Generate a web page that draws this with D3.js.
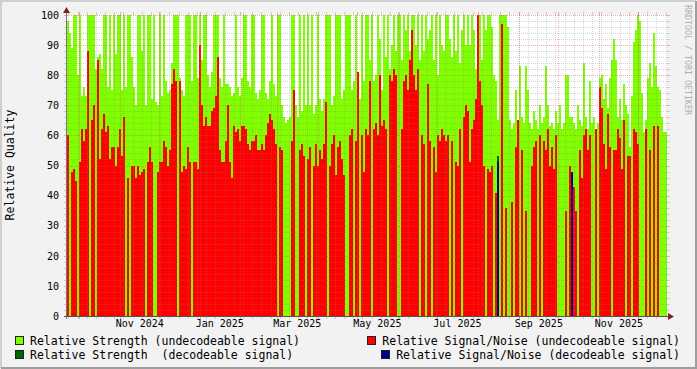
<!DOCTYPE html>
<html>
<head>
<meta charset="utf-8">
<script src="https://cdn.jsdelivr.net/npm/d3@7"></script>
<style>
  html, body { margin: 0; padding: 0; background: #f2f2f2; }
  svg { display: block; font-family: "DejaVu Sans Mono", monospace; }
</style>
</head>
<body>
<svg width="697" height="369"></svg>
<script>
// sampling: one value per consolidated step, Sep 22 2024 .. Dec 23 2025
var startDate = new Date(Date.UTC(2024, 8, 22));
var endDate = new Date(Date.UTC(2025, 11, 23));

// Relative Strength (undecodeable signal)
var strengthUndecodeable = [
    98, 94, 89, 100, 100, 80, 100, 73, 76, 73,
    100, 100, 100, 100, 82, 86, 87, 82, 100, 100,
    76, 100, 75, 100, 87, 100, 100, 75, 100, 76,
    100, 100, 86, 76, 70, 100, 100, 88, 100, 70,
    100, 100, 72, 100, 71, 70, 100, 73, 100, 78,
    74, 75, 84, 100, 100, 100, 79, 75, 73, 100,
    100, 100, 78, 100, 100, 79, 100, 85, 100, 100,
    80, 76, 81, 100, 100, 100, 79, 76, 100, 77,
    77, 76, 73, 74, 100, 76, 73, 79, 100, 100,
    78, 76, 100, 100, 74, 72, 75, 100, 100, 74,
    72, 78, 100, 77, 73, 100, 100, 70, 66, 64,
    65, 66, 100, 100, 70, 66, 100, 68, 100, 70,
    100, 70, 100, 67, 70, 100, 72, 68, 72, 100,
    100, 100, 70, 73, 100, 100, 100, 72, 75, 100,
    100, 100, 75, 78, 100, 80, 72, 100, 78, 100,
    100, 85, 100, 78, 80, 100, 92, 75, 100, 86,
    100, 82, 90, 100, 88, 100, 100, 85, 100, 95,
    100, 88, 100, 100, 90, 100, 85, 100, 88, 100,
    92, 95, 100, 85, 100, 80, 100, 90, 88, 100,
    100, 92, 86, 100, 88, 100, 84, 95, 100, 90,
    100, 90, 100, 95, 82, 100, 100, 85, 100, 95,
    100, 100, 96, 80, 78, 65, 100, 100, 100, 100,
    96, 65, 62, 64, 75, 63, 83, 66, 64, 83,
    75, 64, 62, 68, 65, 62, 70, 64, 66, 83,
    70, 63, 64, 62, 68, 64, 70, 62, 64, 80,
    80, 66, 66, 64, 62, 70, 65, 63, 84, 66,
    62, 78, 64, 66, 62, 64, 79, 80, 72, 77,
    69, 79, 85, 92, 85, 66, 72, 65, 77, 70,
    67, 56, 73, 91, 95, 100, 98, 74, 61, 65,
    79, 84, 76, 94, 83, 76, 75, 66, 61, 61
];

// Relative Signal/Noise (undecodeable signal)
var snrUndecodeable = [
    60, 0, 48, 49, 45, 0, 51, 62, 58, 62,
    88, 0, 65, 70, 0, 85, 52, 62, 67, 61,
    63, 52, 56, 56, 50, 56, 62, 53, 66, 0,
    46, 0, 50, 50, 46, 50, 47, 48, 49, 0,
    51, 56, 51, 0, 0, 48, 51, 51, 58, 56,
    50, 55, 77, 82, 78, 0, 78, 48, 50, 49,
    56, 51, 0, 51, 51, 49, 90, 70, 63, 66,
    63, 63, 68, 69, 73, 86, 55, 51, 51, 58,
    70, 51, 46, 63, 61, 62, 58, 63, 63, 62,
    57, 55, 58, 58, 60, 55, 55, 57, 55, 60,
    64, 67, 65, 62, 57, 0, 56, 55, 0, 0,
    0, 0, 58, 75, 0, 0, 55, 57, 53, 0,
    52, 56, 0, 50, 57, 50, 55, 52, 57, 71,
    0, 50, 57, 60, 47, 56, 58, 52, 47, 0,
    0, 60, 62, 0, 58, 81, 0, 60, 48, 62,
    60, 78, 0, 62, 64, 60, 80, 63, 65, 62,
    0, 80, 78, 82, 80, 0, 0, 62, 78, 80,
    75, 85, 95, 80, 75, 82, 0, 60, 57, 0,
    77, 58, 0, 56, 48, 60, 58, 62, 60, 58,
    60, 0, 58, 0, 51, 50, 62, 0, 66, 70,
    68, 51, 62, 65, 72, 100, 78, 70, 50, 0,
    49, 48, 50, 0, 41, 0, 0, 97, 0, 36,
    0, 0, 38, 0, 56, 65, 0, 55, 0, 35,
    0, 0, 50, 56, 58, 0, 60, 0, 58, 55,
    62, 50, 56, 49, 60, 0, 0, 0, 0, 35,
    0, 50, 0, 43, 35, 0, 55, 46, 60, 62,
    55, 60, 0, 0, 62, 0, 76, 69, 57, 49,
    67, 56, 0, 55, 55, 62, 59, 49, 65, 0,
    53, 53, 0, 62, 61, 57, 0, 0, 0, 62,
    0, 55, 0, 63, 0, 63, 0, 0, 0, 0
];

// the few samples where the signal could be decoded
var decodeableIndex = [215, 252];
var strengthDecodeable = [53, 48];
var snrDecodeable = [51, 48];

var yTickValues = [0, 10, 20, 30, 40, 50, 60, 70, 80, 90, 100];

var legendItems = [
    {label: "Relative Strength (undecodeable signal)", color: "#80ff00"},
    {label: "Relative Signal/Noise (undecodeable signal)", color: "#ff0000"},
    {label: "Relative Strength  (decodeable signal)", color: "#006600"},
    {label: "Relative Signal/Noise (decodeable signal)", color: "#00008c"}
];

(function () {
    "use strict";

    var svg = d3.select("svg");
    var plotLeft = 67, plotRight = 667, plotTop = 15, plotBottom = 316;

    var x = d3.scaleUtc()
        .domain([startDate, endDate])
        .range([plotLeft, plotRight]);
    var y = d3.scaleLinear()
        .domain([0, 100])
        .range([plotBottom, plotTop]);

    var step = (endDate - startDate) / strengthUndecodeable.length;
    var sampleTime = function (i) {
        return new Date(startDate.getTime() + i * step);
    };

    // frame shading
    svg.append("rect").attr("width", 697).attr("height", 369)
        .attr("fill", "#f2f2f2");
    svg.append("path").attr("d", "M1,368V1H696").attr("fill", "none")
        .attr("stroke", "#cfcfcf").attr("stroke-width", 2);
    svg.append("path").attr("d", "M1,368H696V1").attr("fill", "none")
        .attr("stroke", "#9e9e9e").attr("stroke-width", 2);

    // canvas
    svg.append("rect")
        .attr("x", plotLeft).attr("y", plotTop)
        .attr("width", plotRight - plotLeft)
        .attr("height", plotBottom - plotTop)
        .attr("fill", "#ffffff");

    var bars = svg.append("g").attr("shape-rendering", "crispEdges");

    var drawSeries = function (values, indexOf, color) {
        bars.append("g").selectAll("rect")
            .data(values)
            .join("rect")
            .attr("x", function (ignore, i) {
                return x(sampleTime(indexOf(i)));
            })
            .attr("width", function (ignore, i) {
                var k = indexOf(i);
                return x(sampleTime(k + 1)) - x(sampleTime(k));
            })
            .attr("y", function (d) { return y(d); })
            .attr("height", function (d) { return y(0) - y(d); })
            .attr("fill", color);
    };
    var dense = function (i) { return i; };
    var sparse = function (i) { return decodeableIndex[i]; };

    drawSeries(strengthUndecodeable, dense, legendItems[0].color);
    drawSeries(snrUndecodeable, dense, legendItems[1].color);
    drawSeries(strengthDecodeable, sparse, legendItems[2].color);
    drawSeries(snrDecodeable, sparse, legendItems[3].color);

    // grid (drawn on top of the data, rrdtool style)
    var grid = svg.append("g").attr("shape-rendering", "crispEdges");
    var minorColor = "rgba(130,130,130,0.32)";
    var majorColor = "rgba(222,79,79,0.45)";

    d3.range(2, 101, 2).forEach(function (v) {
        var yy = Math.round(y(v)) + 0.5;
        var c = v % 10 === 0 ? majorColor : minorColor;
        grid.append("line").attr("x1", plotLeft).attr("x2", plotRight)
            .attr("y1", yy).attr("y2", yy)
            .attr("stroke", c).attr("stroke-dasharray", "1,1");
        grid.append("line").attr("x1", plotLeft - 3).attr("x2", plotLeft)
            .attr("y1", yy).attr("y2", yy).attr("stroke", c);
        grid.append("line").attr("x1", plotRight).attr("x2", plotRight + 3)
            .attr("y1", yy).attr("y2", yy).attr("stroke", c);
    });

    var vline = function (d, c) {
        var xx = Math.round(x(d)) + 0.5;
        grid.append("line").attr("x1", xx).attr("x2", xx)
            .attr("y1", plotTop).attr("y2", plotBottom)
            .attr("stroke", c).attr("stroke-dasharray", "1,1");
        grid.append("line").attr("x1", xx).attr("x2", xx)
            .attr("y1", plotTop - 3).attr("y2", plotTop).attr("stroke", c);
        grid.append("line").attr("x1", xx).attr("x2", xx)
            .attr("y1", plotBottom).attr("y2", plotBottom + 3)
            .attr("stroke", c);
    };
    d3.utcMonday.range(startDate, endDate).forEach(function (d) {
        vline(d, minorColor);
    });
    d3.utcMonth.range(startDate, endDate).forEach(function (d) {
        vline(d, majorColor);
    });

    // axes
    var yAxis = d3.axisLeft(y).tickValues(yTickValues)
        .tickSize(0).tickPadding(8);
    svg.append("g")
        .attr("transform", "translate(" + plotLeft + ",0)")
        .call(yAxis)
        .call(function (g) { g.select(".domain").remove(); })
        .selectAll("text")
        .attr("font-family", "DejaVu Sans Mono")
        .attr("font-size", "10px")
        .attr("fill", "#000");

    // rrdtool centres month labels in the middle of the labelled month
    var xAxis = d3.axisBottom(x)
        .ticks(d3.utcMonth.every(2))
        .tickFormat(d3.utcFormat("%b %Y"))
        .tickSize(0)
        .tickPadding(4);
    svg.append("g")
        .attr("transform", "translate(0," + plotBottom + ")")
        .call(xAxis)
        .call(function (g) { g.select(".domain").remove(); })
        .selectAll("text")
        .attr("x", function (d) {
            return x(d3.utcDay.offset(d, 15)) - x(d);
        })
        .attr("font-family", "DejaVu Sans Mono")
        .attr("font-size", "10px")
        .attr("fill", "#000");

    var axisG = svg.append("g").attr("shape-rendering", "crispEdges");
    axisG.append("line")
        .attr("x1", plotLeft - 0.5).attr("x2", plotLeft - 0.5)
        .attr("y1", plotBottom + 3).attr("y2", plotTop - 4)
        .attr("stroke", "#777");
    axisG.append("line")
        .attr("x1", plotLeft - 3).attr("x2", plotRight + 3)
        .attr("y1", plotBottom + 0.5).attr("y2", plotBottom + 0.5)
        .attr("stroke", "#555");
    svg.append("path")
        .attr("d", "M" + (plotLeft - 0.5) + "," + (plotTop - 8) +
                "l3.5,6h-7z")
        .attr("fill", "#801f1f");
    svg.append("path")
        .attr("d", "M" + (plotRight + 7) + "," + (plotBottom + 0.5) +
                "l-6,-3.5v7z")
        .attr("fill", "#801f1f");

    // titles
    svg.append("text")
        .attr("transform", "translate(13.5,165) rotate(-90)")
        .attr("text-anchor", "middle")
        .attr("font-size", "11.5px")
        .text("Relative Quality");

    svg.append("text")
        .attr("transform", "translate(685,5) rotate(90)")
        .attr("font-size", "8.3px")
        .attr("fill", "#b0b0b0")
        .text("RRDTOOL / TOBI OETIKER");

    // legend: two rows, left and right justified
    var legendPos = [
        {x: 30, y: 345, anchor: "start"},
        {x: 680, y: 345, anchor: "end"},
        {x: 30, y: 359, anchor: "start"},
        {x: 680, y: 359, anchor: "end"}
    ];
    legendItems.forEach(function (item, i) {
        var p = legendPos[i];
        var t = svg.append("text")
            .attr("x", p.x).attr("y", p.y)
            .attr("text-anchor", p.anchor)
            .attr("font-size", "11.5px")
            .style("white-space", "pre")
            .text(item.label);
        var w = t.node().getComputedTextLength();
        var textStart = p.anchor === "start" ? p.x : p.x - w;
        svg.append("rect")
            .attr("x", textStart - 14.5).attr("y", p.y - 8.5)
            .attr("width", 8).attr("height", 8)
            .attr("fill", item.color)
            .attr("stroke", "#222")
            .attr("shape-rendering", "crispEdges");
    });
}());
</script>
</body>
</html>
